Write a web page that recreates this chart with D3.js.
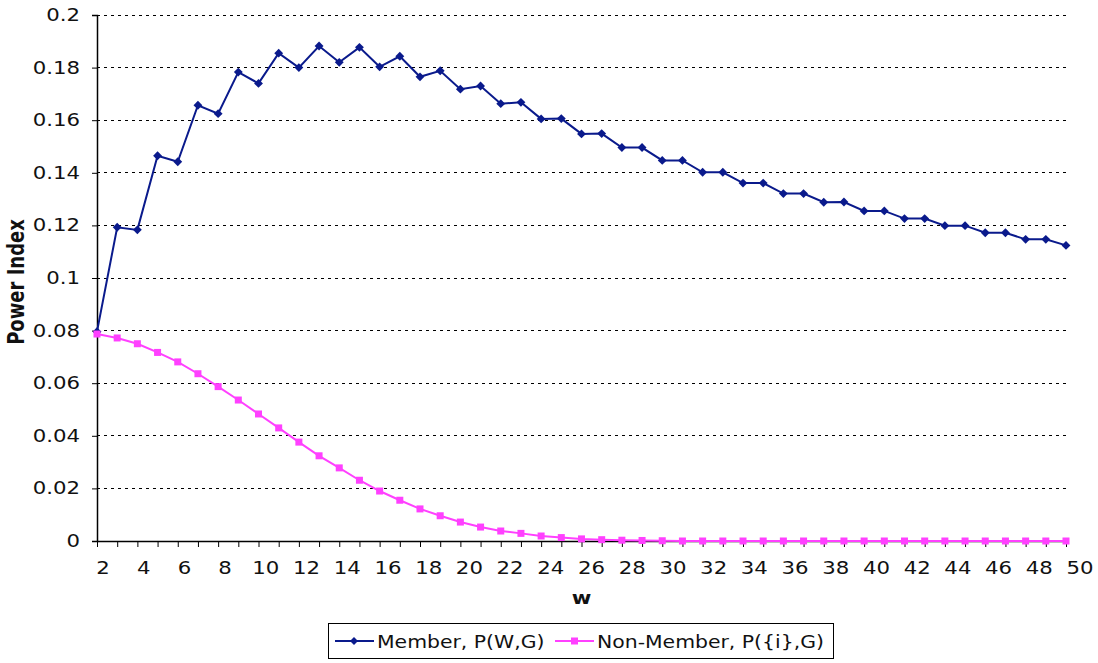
<!DOCTYPE html>
<html><head><meta charset="utf-8">
<script src="https://cdn.jsdelivr.net/npm/d3@7"></script>
<style>body{margin:0;background:#fff;} text{font-family:Verdana,"DejaVu Sans",sans-serif;}</style>
</head><body><svg id="c" width="1098" height="663"></svg>
<script>
const wValues = d3.range(2, 51);
const member = [0.0796,0.1193,0.1183,0.1465,0.1442,0.1657,0.1625,0.1783,0.1740,0.1855,0.1800,0.1882,0.1820,0.1877,0.1803,0.1843,0.1765,0.1788,0.1718,0.1730,0.1663,0.1668,0.1605,0.1606,0.1548,0.1549,0.1496,0.1496,0.1447,0.1447,0.1402,0.1402,0.1361,0.1361,0.1321,0.1321,0.1288,0.1289,0.1255,0.1255,0.1226,0.1226,0.1199,0.1199,0.1172,0.1172,0.1147,0.1147,0.1124];
const nonMember = [0.0787,0.0772,0.0750,0.0717,0.0681,0.0636,0.0587,0.0536,0.0483,0.0430,0.0376,0.0324,0.0278,0.0231,0.0190,0.0155,0.0122,0.0096,0.0072,0.0053,0.0038,0.0029,0.0019,0.0013,0.0008,0.0005,0.0003,0.0002,0.0001,0,0,0,0,0,0,0,0,0,0,0,0,0,0,0,0,0,0,0,0];
const yTicks = [0,0.02,0.04,0.06,0.08,0.1,0.12,0.14,0.16,0.18,0.2];
const xTickLabels = d3.range(2, 51, 2);
const seriesNames = ["Member, P(W,G)", "Non-Member, P({i},G)"];

const svg = d3.select("#c");
const L = 97, R = 1066, T = 15, B = 541;
const FS = 17, SX = 1.25;
const x = d3.scaleLinear().domain([2, 50]).range([L, R]);
const xLab = d3.scaleLinear().domain([2, 50]).range([L + 6, R + 14]);
const y = d3.scaleLinear().domain([0, 0.2]).range([B, T]);

// gridlines
svg.append("g").selectAll("line").data(yTicks.filter(d => d > 0)).join("line")
  .attr("x1", L).attr("x2", R).attr("y1", d => y(d)).attr("y2", d => y(d))
  .attr("stroke", "#000").attr("stroke-width", 1).attr("stroke-dasharray", "3,4")
  .attr("shape-rendering", "crispEdges");

// y axis
const yAxis = d3.axisLeft(y).tickValues(yTicks).tickSize(5).tickPadding(17 / SX - 5)
  .tickFormat(d => d === 0 ? "0" : String(+d.toFixed(2)));
const gy = svg.append("g").attr("transform", `translate(${L},0)`).call(yAxis);
gy.select(".domain").attr("stroke", "#000").attr("stroke-width", 1.5);
gy.selectAll(".tick line").attr("stroke", "#000");
gy.selectAll("text").attr("font-size", FS).attr("fill", "#111")
  .attr("transform", `scale(${SX},1)`)
  .style("font-family", "Verdana,'DejaVu Sans',sans-serif");

// x axis
const xAxis = d3.axisBottom(x).tickValues(wValues).tickSize(6).tickSizeOuter(0).tickFormat(() => "");
const gx = svg.append("g").attr("transform", `translate(0,${B})`).call(xAxis);
gx.select(".domain").attr("stroke", "#000").attr("stroke-width", 1.5);
gx.selectAll(".tick line").attr("stroke", "#000");
svg.append("g").selectAll("text").data(xTickLabels).join("text")
  .attr("transform", d => `translate(${xLab(d)},${B + 33}) scale(${SX},1)`)
  .attr("text-anchor", "middle").attr("font-size", FS).attr("fill", "#111")
  .text(d => d);

// lines
const line = d3.line().x((d, i) => x(wValues[i])).y(d => y(d));
svg.append("path").datum(member).attr("d", line).attr("fill", "none")
  .attr("stroke", "#0a1a8c").attr("stroke-width", 2);
svg.append("path").datum(nonMember).attr("d", line).attr("fill", "none")
  .attr("stroke", "#ff40ff").attr("stroke-width", 2);

// markers
svg.append("g").selectAll("path").data(member).join("path")
  .attr("transform", (d, i) => `translate(${x(wValues[i])},${y(d)})`)
  .attr("d", d3.symbol(d3.symbolDiamond2 || d3.symbolDiamond, 50)())
  .attr("fill", "#0a1a8c");
svg.append("g").selectAll("rect").data(nonMember).join("rect")
  .attr("x", (d, i) => x(wValues[i]) - 3.5).attr("y", d => y(d) - 3.5)
  .attr("width", 7).attr("height", 7).attr("fill", "#ff40ff");

// axis titles
svg.append("text").attr("transform", `translate(24,${(T + B) / 2 + 4}) scale(${SX},1) rotate(-90)`)
  .attr("text-anchor", "middle").attr("font-size", 18).attr("font-weight", "bold").attr("fill", "#111")
  .text("Power Index");
svg.append("text").attr("transform", `translate(${(L + R) / 2},604) scale(${SX},1)`)
  .attr("text-anchor", "middle").attr("font-size", FS).attr("font-weight", "bold").attr("fill", "#111")
  .text("w");

// legend
const lg = svg.append("g");
lg.append("rect").attr("x", 328.5).attr("y", 623.5).attr("width", 505).attr("height", 35)
  .attr("fill", "#fff").attr("stroke", "#000").attr("stroke-width", 1);
const legendColors = ["#0a1a8c", "#ff40ff"];
const legendX = [335, 555];
seriesNames.forEach((name, i) => {
  const g = lg.append("g").attr("transform", `translate(${legendX[i]},641)`);
  g.append("line").attr("x1", 0).attr("x2", 39).attr("stroke", legendColors[i]).attr("stroke-width", 2);
  if (i === 0) g.append("path").attr("transform", "translate(19,0)")
    .attr("d", d3.symbol(d3.symbolDiamond2 || d3.symbolDiamond, 40)()).attr("fill", legendColors[i]);
  else g.append("rect").attr("x", 16).attr("y", -3.5).attr("width", 7).attr("height", 7).attr("fill", legendColors[i]);
  g.append("text").attr("transform", `translate(42,6.5) scale(1.2,1)`).attr("font-size", FS).attr("fill", "#111").text(name);
});
</script></body></html>
